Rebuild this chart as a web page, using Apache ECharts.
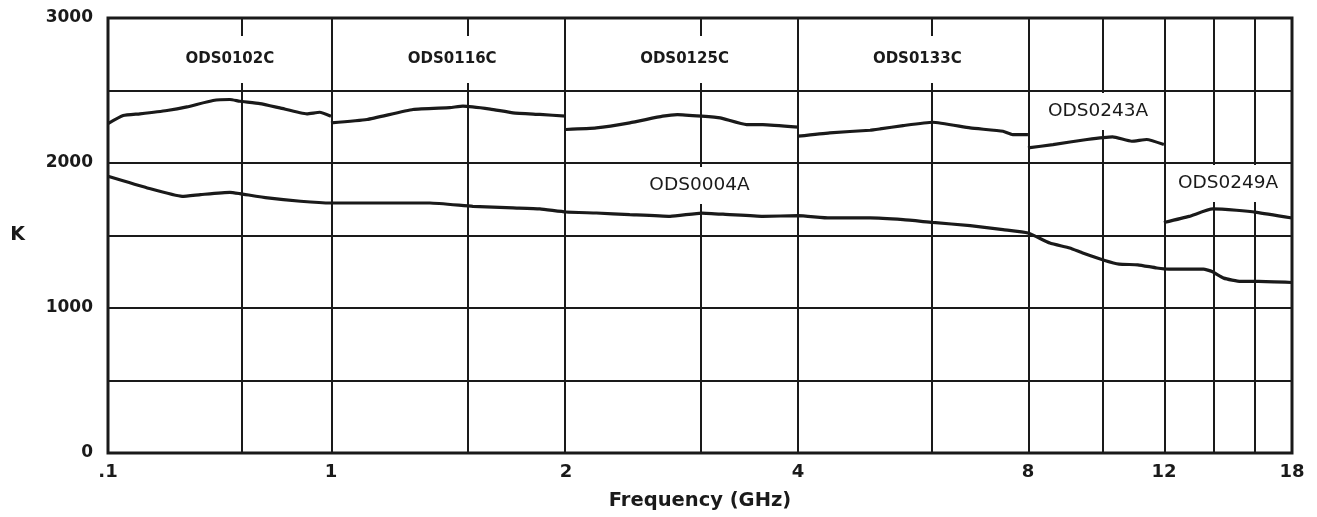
<!DOCTYPE html>
<html>
<head>
<meta charset="utf-8">
<script src="https://cdn.jsdelivr.net/npm/echarts@6/dist/echarts.min.js"></script>
<style>
html,body{margin:0;padding:0;background:#fff;}
#chart{width:1317px;height:517px;}
</style>
</head>
<body>
<div id="chart"></div>
<script>
// ---- Axis definition (frequency ticks, GHz) ----
const xTickFreqs  = [0.1, 1, 2, 4, 8, 12, 18];
const xTickLabels = ['.1', '1', '2', '4', '8', '12', '18'];
// warped axis scale: where each labelled frequency sits on the chart's non-uniform scale
const xTickScale  = [0, 0.966, 1.984, 2.990, 3.986, 4.575, 5.130];
// frequencies of the vertical grid lines
const xGridFreqs  = [0.4, 1, 1.5, 2, 3, 4, 6, 8, 10, 12, 14, 16];
const yLabelTicks = [0, 1000, 2000, 3000];

// ---- Data: [frequency GHz, noise temperature K] ----
const ods0102C = [[0.1,2272],[0.117,2327],[0.139,2339],[0.184,2362],[0.226,2387],[0.296,2431],[0.352,2438],[0.39,2426],[0.48,2410],[0.59,2380],[0.78,2339],[0.89,2350],[1.0,2323]];
const ods0116C = [[1.0,2277],[1.112,2300],[1.274,2369],[1.42,2382],[1.476,2392],[1.6,2372],[1.711,2346],[1.852,2335],[2.0,2323]];
const ods0125C = [[2.0,2231],[2.19,2242],[2.42,2277],[2.67,2323],[2.79,2334],[3.0,2323],[3.17,2311],[3.43,2265],[3.6,2265],[4.0,2247]];
const ods0133C = [[4.0,2185],[4.4,2208],[4.97,2226],[5.12,2235],[5.49,2258],[6.0,2281],[6.72,2242],[7.42,2219],[7.64,2196],[8.0,2196]];
const ods0243A = [[8.0,2104],[8.62,2127],[9.54,2162],[10.3,2180],[10.9,2150],[11.4,2162],[12.0,2127]];
const ods0249A = [[12.0,1590],[13.0,1632],[14.0,1683],[15.1,1674],[16.1,1660],[18.0,1621]];
const ods0004A = [[0.1,1908],[0.15,1828],[0.215,1770],[0.26,1782],[0.352,1798],[0.39,1789],[0.52,1759],[0.73,1736],[1.0,1724],[1.339,1724],[1.52,1701],[1.711,1690],[1.852,1683],[2.0,1662],[2.19,1655],[2.42,1644],[2.73,1632],[3.0,1655],[3.26,1644],[3.6,1632],[4.0,1637],[4.4,1621],[4.97,1621],[5.49,1609],[6.0,1590],[6.72,1568],[7.42,1540],[8.0,1517],[8.54,1448],[9.06,1414],[9.42,1379],[10.06,1328],[10.5,1303],[11.1,1298],[11.75,1276],[12.2,1268],[13.6,1268],[13.97,1252],[14.5,1206],[15.3,1183],[16.2,1183],[18.0,1176]];

// ---- Curve annotations: [text, frequency GHz, K, bold] ----
const annotations = [
  ['ODS0102C', 0.352, 2714, true],
  ['ODS0116C', 1.43, 2714, true],
  ['ODS0125C', 2.85, 2714, true],
  ['ODS0133C', 5.73, 2714, true],
  ['ODS0243A', 9.86, 2355, false],
  ['ODS0004A', 2.98, 1844, false],
  ['ODS0249A', 14.7, 1858, false]
];

// piecewise-logarithmic frequency scale of the original chart
function warp(f) {
  const n = xTickFreqs.length;
  for (let i = 0; i < n - 1; i++) {
    const f0 = xTickFreqs[i], f1 = xTickFreqs[i + 1];
    if (f <= f1 || i === n - 2) {
      const t = Math.log(f / f0) / Math.log(f1 / f0);
      return xTickScale[i] + t * (xTickScale[i + 1] - xTickScale[i]);
    }
  }
}
const toXY = arr => arr.map(p => [warp(p[0]), p[1]]);

const INK = '#1a1a1a';
const FONT = '"DejaVu Sans", "Liberation Sans", sans-serif';

function curve(name, arr) {
  return {
    name: name, type: 'line', data: toXY(arr), showSymbol: false, smooth: 0.15,
    lineStyle: { color: INK, width: 3.2 }, itemStyle: { color: INK }, z: 3, silent: true
  };
}

const chart = echarts.init(document.getElementById('chart'), null, { renderer: 'canvas' });
chart.setOption({
  animation: false,
  backgroundColor: '#ffffff',
  grid: { left: 108, right: 25, top: 18, bottom: 64, show: true, borderColor: INK, borderWidth: 3, backgroundColor: 'transparent' },
  xAxis: {
    type: 'value', min: 0, max: xTickScale[xTickScale.length - 1],
    axisLine: { show: false }, axisTick: { show: false }, splitLine: { show: false },
    axisLabel: {
      customValues: xTickFreqs.map(warp),
      formatter: v => {
        for (let i = 0; i < xTickFreqs.length; i++) if (Math.abs(warp(xTickFreqs[i]) - v) < 1e-6) return xTickLabels[i];
        return '';
      },
      color: INK, fontSize: 18, fontWeight: 'bold', fontFamily: FONT, margin: 10
    },
    name: 'Frequency (GHz)', nameLocation: 'middle', nameGap: 38,
    nameTextStyle: { color: INK, fontSize: 19.5, fontWeight: 'bold', fontFamily: FONT }
  },
  yAxis: {
    type: 'value', min: 0, max: 3000, interval: 500,
    axisLine: { show: false }, axisTick: { show: false },
    splitLine: { show: true, lineStyle: { color: INK, width: 2 } },
    axisLabel: {
      formatter: v => (yLabelTicks.indexOf(v) >= 0 ? String(v) : ''),
      color: INK, fontSize: 17, fontWeight: 'bold', fontFamily: FONT, margin: 15
    },
    name: 'K', nameLocation: 'middle', nameRotate: 0, nameGap: 83,
    nameTextStyle: { color: INK, fontSize: 19, fontWeight: 'bold', fontFamily: FONT }
  },
  series: [
    {
      name: 'grid', type: 'line', data: [], silent: true, z: 1,
      markLine: {
        silent: true, symbol: ['none', 'none'], label: { show: false }, animation: false,
        lineStyle: { color: INK, width: 2, type: 'solid' },
        data: xGridFreqs.map(f => ({ xAxis: warp(f) }))
      }
    },
    curve('ODS0102C', ods0102C),
    curve('ODS0116C', ods0116C),
    curve('ODS0125C', ods0125C),
    curve('ODS0133C', ods0133C),
    curve('ODS0243A', ods0243A),
    curve('ODS0249A', ods0249A),
    curve('ODS0004A', ods0004A),
    {
      name: 'labels', type: 'scatter', symbolSize: 2, silent: true, z: 10,
      itemStyle: { color: 'rgba(255,255,255,0)', opacity: 1 },
      data: annotations.map(a => ({
        value: [warp(a[1]), a[2]],
        label: {
          show: true, position: 'inside', formatter: a[0],
          color: INK, fontFamily: FONT,
          fontSize: a[3] ? 15 : 18.5, fontWeight: a[3] ? 'bold' : 'normal',
          backgroundColor: '#ffffff', padding: a[3] ? [16, 4] : [9, 4]
        }
      }))
    }
  ]
});
</script>
</body>
</html>
